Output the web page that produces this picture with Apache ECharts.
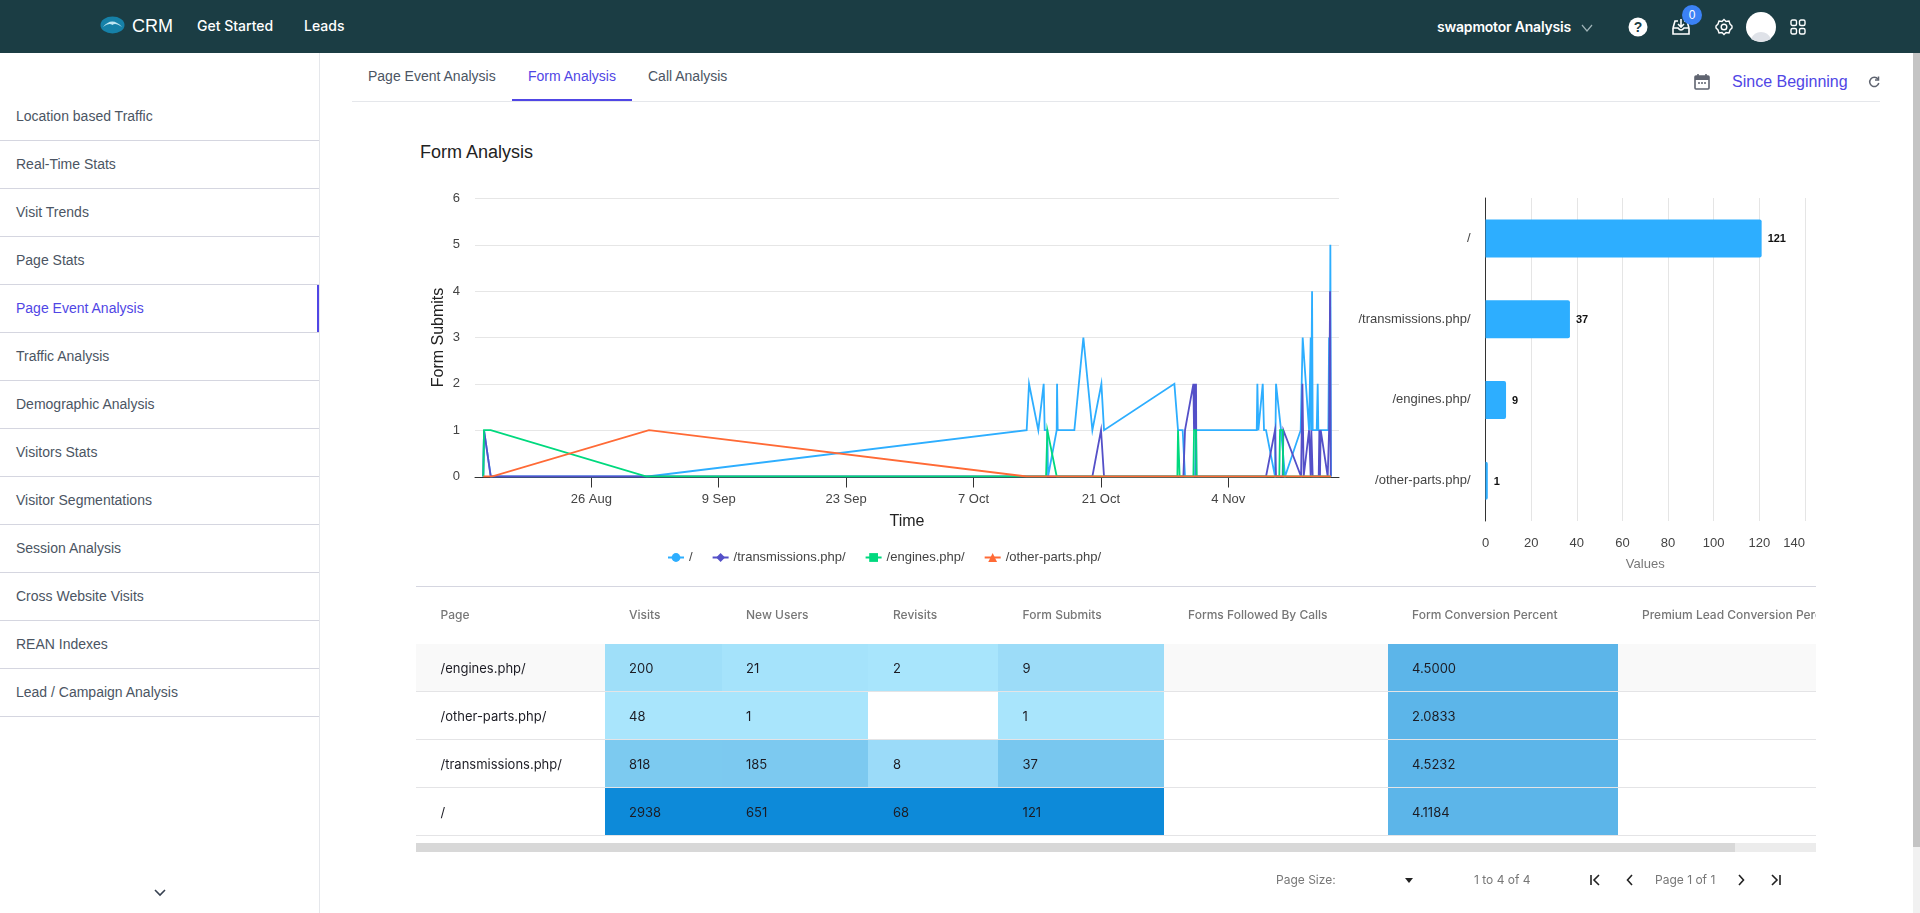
<!DOCTYPE html>
<html><head><meta charset="utf-8"><title>Form Analysis</title>
<script src="https://cdn.jsdelivr.net/npm/echarts@6/dist/echarts.min.js"></script>
<style>
html,body{margin:0;padding:0;width:1920px;height:913px;overflow:hidden;background:#fff;font-family:"Liberation Sans",Arial,sans-serif}
.abs{position:absolute;white-space:nowrap}
#hdr{position:absolute;left:0;top:0;width:1920px;height:53px;background:#1b3d44}
#hdr .t{position:absolute;color:#fff;font-family:Inter,sans-serif;font-size:14px;font-weight:500;line-height:20px;top:16px}
#side{position:absolute;left:0;top:53px;width:319px;height:860px;border-right:1px solid #e5e7eb}
.si{position:absolute;left:0;width:319px;height:47px;border-bottom:1px solid #d5d6e0;font-size:14px;line-height:47px;color:#4b5563;text-indent:16px;box-sizing:content-box}
.si.on{color:#5046e5}
.si.on:after{content:"";position:absolute;right:0;top:0;width:2px;height:47px;background:#5046e5}
.tab{position:absolute;top:66px;font-size:14px;line-height:20px;color:#4b5563}
#chart{position:absolute;left:0;top:0;width:1920px;height:913px}
#tbl{position:absolute;left:416px;top:586px;width:1400px;height:250px;overflow:hidden;border-top:1px solid #d5d6e0;font-family:Inter,sans-serif}
.row{position:absolute;left:0;width:1400px;height:47px;border-bottom:1px solid #e4e4e6}
.cell{position:absolute;top:0;height:47px;line-height:49px;font-size:13px;color:#1c1c24;overflow:visible;white-space:nowrap;box-sizing:border-box}
.th{position:absolute;top:0;line-height:56px;font-size:12px;font-weight:500;color:#777;white-space:nowrap}
</style></head><body>
<div id="hdr">
  <svg class="abs" style="left:100px;top:16px" width="25" height="18" viewBox="0 0 25 18"><ellipse cx="12.5" cy="9" rx="12" ry="8.5" fill="#1681a8"/><path d="M3 11 Q12 0 22 11 Q15 6 12.5 9 Q9 6 3 11Z" fill="#bfe6f2"/></svg>
  <div class="t" style="left:132px;font-size:18px;font-weight:400;font-family:'Liberation Sans'">CRM</div>
  <div class="t" style="left:197px">Get Started</div>
  <div class="t" style="left:304px">Leads</div>
  <div class="t" style="left:1437px;top:17px;font-weight:600;letter-spacing:-0.2px">swapmotor Analysis</div>
  <svg class="abs" style="left:1581px;top:23px" width="12" height="10"><path d="M1 2 L6 8 L11 2" fill="none" stroke="#9fb3b7" stroke-width="1.2"/></svg>
  <svg class="abs" style="left:1628px;top:17px" width="20" height="20"><circle cx="10" cy="10" r="9.5" fill="#fff"/><text x="10" y="15" text-anchor="middle" font-family="Liberation Sans" font-size="14" font-weight="700" fill="#1b3d44">?</text></svg>
  <svg class="abs" style="left:1671px;top:18px" width="20" height="18" fill="none" stroke="#fff" stroke-width="1.6"><path d="M2 10 V16 H18 V10 M2 10 L4 3 H7 M13 3 H16 L18 10 M2 10 H7 Q10 14 13 10 H18"/><path d="M10 1 V9 M7 6 L10 9 L13 6"/></svg>
  <div class="abs" style="left:1682px;top:5px;width:20px;height:20px;border-radius:10px;background:#3b82f6;color:#fff;font-size:12px;line-height:20px;text-align:center">0</div>
  <svg class="abs" style="left:1715px;top:18px" width="18" height="18" fill="none" stroke="#fff" stroke-width="1.4"><circle cx="9" cy="9" r="2.8"/><path d="M9 1.5 L11 3.5 L14 3 L15 6 L17 8 V10 L15 12 L14 15 L11 14.5 L9 16.5 L7 14.5 L4 15 L3 12 L1 10 V8 L3 6 L4 3 L7 3.5Z"/></svg>
  <svg class="abs" style="left:1746px;top:12px" width="30" height="30"><circle cx="15" cy="15" r="15" fill="#fff"/><path d="M5 27 Q8 20 15 20 Q22 20 25 27 Q15 33 5 27Z" fill="#dfe2e8"/></svg>
  <svg class="abs" style="left:1790px;top:19px" width="16" height="16" fill="none" stroke="#fff" stroke-width="1.4"><rect x="1" y="1" width="5.5" height="5.5" rx="1.5"/><rect x="9.5" y="1" width="5.5" height="5.5" rx="1.5"/><rect x="1" y="9.5" width="5.5" height="5.5" rx="1.5"/><rect x="9.5" y="9.5" width="5.5" height="5.5" rx="1.5"/></svg>
</div>
<div id="side"></div>
<svg class="abs" style="left:154px;top:889px" width="12" height="8"><path d="M1 1 L6 6 L11 1" fill="none" stroke="#374151" stroke-width="1.6"/></svg>
<div class="tab" style="left:368px">Page Event Analysis</div>
<div class="tab" style="left:528px;color:#5046e5">Form Analysis</div>
<div class="tab" style="left:648px">Call Analysis</div>
<div class="abs" style="left:352px;top:101px;width:1528px;height:1px;background:#e5e7eb"></div>
<div class="abs" style="left:512px;top:99px;width:120px;height:2px;background:#5046e5"></div>
<svg class="abs" style="left:1694px;top:73px" width="16" height="17"><rect x="1" y="3" width="14" height="13" rx="1" fill="none" stroke="#5f6470" stroke-width="1.6"/><rect x="1" y="3" width="14" height="4" fill="#5f6470"/><path d="M4 1V4M12 1V4" stroke="#5f6470" stroke-width="1.6"/><path d="M4 10H6M7 10H9M10 10H12" stroke="#5f6470" stroke-width="1.4"/></svg>
<div class="abs" style="left:1732px;top:71px;font-size:16px;line-height:22px;color:#5046e5">Since Beginning</div>
<svg class="abs" style="left:1868px;top:76px" width="12" height="12" fill="none" stroke="#5f6470" stroke-width="1.5"><path d="M10 3.2 A4.6 4.6 0 1 0 10.8 7"/><path d="M10.5 0.5 V4 H7" /></svg>
<div class="abs" style="left:420px;top:141px;font-size:18px;line-height:22px;color:#222">Form Analysis</div>
<div id="chart"></div>
<div id="tbl"></div>
<div class="abs" style="left:416px;top:843px;width:1400px;height:9px;background:#ececec"></div>
<div class="abs" style="left:416px;top:843px;width:1319px;height:9px;background:#d8d8d8"></div>
<div class="abs" style="left:1276px;top:871px;font:12px/18px Inter,sans-serif;color:#777">Page Size:</div>
<div class="abs" style="left:1405px;top:878px;width:0;height:0;border-left:4px solid transparent;border-right:4px solid transparent;border-top:5px solid #222"></div>
<div class="abs" style="left:1474px;top:871px;font:12px/18px Inter,sans-serif;color:#777">1 to 4 of 4</div>
<div class="abs" style="left:1655px;top:871px;font:12px/18px Inter,sans-serif;color:#777">Page 1 of 1</div>
<svg class="abs" style="left:1589px;top:874px" width="12" height="12" fill="none" stroke="#222" stroke-width="1.6"><path d="M2 1V11M10 1L5 6L10 11"/></svg>
<svg class="abs" style="left:1626px;top:874px" width="8" height="12" fill="none" stroke="#222" stroke-width="1.6"><path d="M6 1L1.5 6L6 11"/></svg>
<svg class="abs" style="left:1737px;top:874px" width="8" height="12" fill="none" stroke="#222" stroke-width="1.6"><path d="M2 1L6.5 6L2 11"/></svg>
<svg class="abs" style="left:1770px;top:874px" width="12" height="12" fill="none" stroke="#222" stroke-width="1.6"><path d="M10 1V11M2 1L7 6L2 11"/></svg>
<div class="abs" style="left:1913px;top:53px;width:7px;height:860px;background:#f1f1f1"></div>
<div class="abs" style="left:1913px;top:53px;width:7px;height:794px;background:#c4c4c4"></div>
<script>
// ---- navigation text
const sideItems = ['Location based Traffic','Real-Time Stats','Visit Trends','Page Stats','Page Event Analysis','Traffic Analysis','Demographic Analysis','Visitors Stats','Visitor Segmentations','Session Analysis','Cross Website Visits','REAN Indexes','Lead / Campaign Analysis'];
const activeSide = 'Page Event Analysis';

// ---- line chart data: days relative to 26 Aug
const seriesNames = ['/','/transmissions.php/','/engines.php/','/other-parts.php/'];
const rootDays = [-11.87,-11.79,-11.05,6.2,47.84,48.10,49.12,49.71,49.82,50.11,50.19,51.14,51.18,51.25,53.08,54.07,55.06,56.05,56.34,64.07,64.47,64.98,65.24,65.42,66.34,66.45,73.12,73.19,73.3,73.78,73.92,74.14,75.13,75.24,75.79,76.23,77.95,78.17,78.87,79.05,79.09,79.2,79.27,79.71,79.82,79.89,80.99,81.07,81.14,81.21,81.28];
const rootSubmits = [0,1,0,0,1,2,1,2,1,1,0,1,2,1,1,3,1,2,1,2,1,1,0,0,0,1,1,2,1,2,1,1,0,2,1,0,1,3,1,3,1,4,1,1,2,1,1,3,1,5,0];
const transDays = [-11.87,-11.79,-11.05,55.06,56.01,56.34,65.06,65.24,66.16,66.23,66.3,66.38,66.45,66.49,74.14,75.13,75.24,75.97,76.05,76.23,77.99,78.14,78.28,78.43,78.87,78.98,79.05,79.12,79.2,79.27,79.93,80.0,80.07,80.15,80.26,80.92,81.07,81.18,81.25];
const transSubmits = [0,1,0,0,1,0,0,1,2,1,2,1,2,0,0,1,0,0,1,1,0,2,0,0,1,1,0,1,1,0,0,1,0,1,1,0,1,4,0];
const engineDays = [-11.87,-11.79,-11.05,6.09,49.97,50.11,51.14,64.4,64.47,64.62,64.65,66.16,66.23,66.45,66.52,75.6,75.68,75.97,76.05,81.28];
const engineSubmits = [0,1,1,0,0,1,0,0,1,1,0,0,1,1,0,0,1,1,0,0];
const otherDays = [-11.87,-10.95,6.34,47.84,81.28];
const otherSubmits = [0,0,1,0,0];
const lineTickDays = [0,14,28,42,56,70];

// ---- bar chart data
const barPages = ['/','/transmissions.php/','/engines.php/','/other-parts.php/'];
const barValues = [121,37,9,1];

// ---- table data
const tableHeaders = ['Page','Visits','New Users','Revisits','Form Submits','Forms Followed By Calls','Form Conversion Percent','Premium Lead Conversion Percent'];
const tablePages = ['/engines.php/','/other-parts.php/','/transmissions.php/','/'];
const tableVisits = ['200','48','818','2938'];
const tableNewUsers = ['21','1','185','651'];
const tableRevisits = ['2','','8','68'];
const tableSubmits = ['9','1','37','121'];
const tableConversion = ['4.5000','2.0833','4.5232','4.1184'];

// ---- page chrome built from the lists
const side = document.getElementById('side');
sideItems.forEach((s,i)=>{const d=document.createElement('div');d.className='si'+(s===activeSide?' on':'');d.style.top=(40+48*i)+'px';d.textContent=s;side.appendChild(d);});

const colLeft=[0,189,306,452,582,748,972,1202], colWidth=[189,117,146,130,166,224,230,198], textPad=[24.5,24,24,25,24.6,24,24,24];
const heat={ '1':['#9fdff9','#a5e3fb','#a8e5fc','#9cdcf8'], '2':['#a9e5fc','#a9e5fc','#ffffff','#a9e5fc'], '3':['#7ccaf0','#7cc9f0','#9bdbf9','#78c7ef'], '4':['#0d8ad9','#0d8ad9','#0d8ad9','#0d8ad9'] };
const tbl=document.getElementById('tbl');
tableHeaders.forEach((h,i)=>{const d=document.createElement('div');d.className='th';d.style.left=(colLeft[i]+textPad[i])+'px';d.textContent=h;tbl.appendChild(d);});
tablePages.forEach((p,r)=>{
  const row=document.createElement('div');row.className='row';row.style.top=(57+48*r)+'px';
  if(r===0)row.style.background='#f9f9f9';
  const vals=[p,tableVisits[r],tableNewUsers[r],tableRevisits[r],tableSubmits[r],'',tableConversion[r],''];
  vals.forEach((v,c)=>{
    const d=document.createElement('div');d.className='cell';d.style.left=colLeft[c]+'px';d.style.width=colWidth[c]+'px';d.style.paddingLeft=textPad[c]+'px';d.textContent=v;
    if(c>=1&&c<=4)d.style.background=heat[r+1][c-1];
    if(c===6)d.style.background='#5cb5e9';
    row.appendChild(d);
  });
  tbl.appendChild(row);
});

// ---- chart
const DAY=86400000, BASE=Date.UTC(2019,7,26);
const MONTHS=['Jan','Feb','Mar','Apr','May','Jun','Jul','Aug','Sep','Oct','Nov','Dec'];
const pts=(days,vals)=>days.map((d,i)=>[BASE+d*DAY,vals[i]]);
const tickVals=lineTickDays.map(d=>BASE+d*DAY);
const FONT='"Liberation Sans",Arial,sans-serif';
function lineSeries(name,days,vals,color,symbol){
  return {name,type:'line',xAxisIndex:0,yAxisIndex:0,data:pts(days,vals),symbol,symbolSize:8,showSymbol:false,
    lineStyle:{color,width:1.8,join:'miter'},itemStyle:{color},smooth:false,emphasis:{disabled:true}};
}
const chart=echarts.init(document.getElementById('chart'),null,{renderer:'canvas'});
chart.setOption({
  useUTC:true,animation:false,backgroundColor:'transparent',tooltip:{show:false},
  textStyle:{fontFamily:FONT},
  grid:[{left:475,top:198.5,width:864,height:278},{left:1485.5,top:198,width:319.5,height:323}],
  legend:{left:667,top:551,padding:0,itemWidth:16,itemHeight:11,itemGap:19,selectedMode:false,textStyle:{fontFamily:FONT,fontSize:13,color:'#444'},data:seriesNames},
  xAxis:[
   {type:'value',gridIndex:0,min:BASE-12.78*DAY,max:BASE+82.16*DAY,offset:1,name:'Time',nameLocation:'middle',nameGap:36,nameTextStyle:{fontFamily:FONT,fontSize:16,color:'#222'},
    axisLine:{onZero:false,lineStyle:{color:'#333',width:1}},axisTick:{customValues:tickVals,length:10,lineStyle:{color:'#333'}},splitLine:{show:false},
    axisLabel:{customValues:tickVals,margin:15,fontFamily:FONT,fontSize:13,color:'#444',hideOverlap:false,formatter:v=>{const t=new Date(v);return t.getUTCDate()+' '+MONTHS[t.getUTCMonth()];}}},
   {type:'value',gridIndex:1,min:0,max:140,interval:20,name:'Values',nameLocation:'middle',nameGap:37,nameTextStyle:{fontFamily:FONT,fontSize:13,color:'#777'},
    axisLine:{show:false},axisTick:{show:false},splitLine:{show:true,showMinLine:false,lineStyle:{color:'#e5e5e5'}},
    axisLabel:{margin:16,fontFamily:FONT,fontSize:13,color:'#444',alignMaxLabel:'right'}}
  ],
  yAxis:[
   {type:'value',gridIndex:0,min:0,max:6,interval:1,name:'Form Submits',nameLocation:'middle',nameGap:28,nameTextStyle:{fontFamily:FONT,fontSize:16,color:'#222'},
    axisLine:{show:false},axisTick:{show:false},splitLine:{showMinLine:false,lineStyle:{color:'#e6e6e6'}},axisLabel:{margin:15,fontFamily:FONT,fontSize:13,color:'#444'}},
   {type:'category',gridIndex:1,inverse:true,data:barPages,axisLine:{onZero:false,lineStyle:{color:'#333'}},axisTick:{show:false},
    axisLabel:{margin:15,padding:[2,0,0,0],fontFamily:FONT,fontSize:13,color:'#444'}}
  ],
  series:[
    lineSeries(seriesNames[0],rootDays,rootSubmits,'#2daeff','circle'),
    lineSeries(seriesNames[1],transDays,transSubmits,'#5450c8','diamond'),
    lineSeries(seriesNames[2],engineDays,engineSubmits,'#00d97e','rect'),
    lineSeries(seriesNames[3],otherDays,otherSubmits,'#ff6a36','triangle'),
    {type:'bar',name:'Values',xAxisIndex:1,yAxisIndex:1,data:barValues,barWidth:38,itemStyle:{color:'#2daeff',borderRadius:[0,2,2,0]},
     label:{show:true,position:'right',distance:6,offset:[0,1],fontFamily:FONT,fontSize:11,fontWeight:'bold',color:'#111'},emphasis:{disabled:true}}
  ]
});
</script>
</body></html>
